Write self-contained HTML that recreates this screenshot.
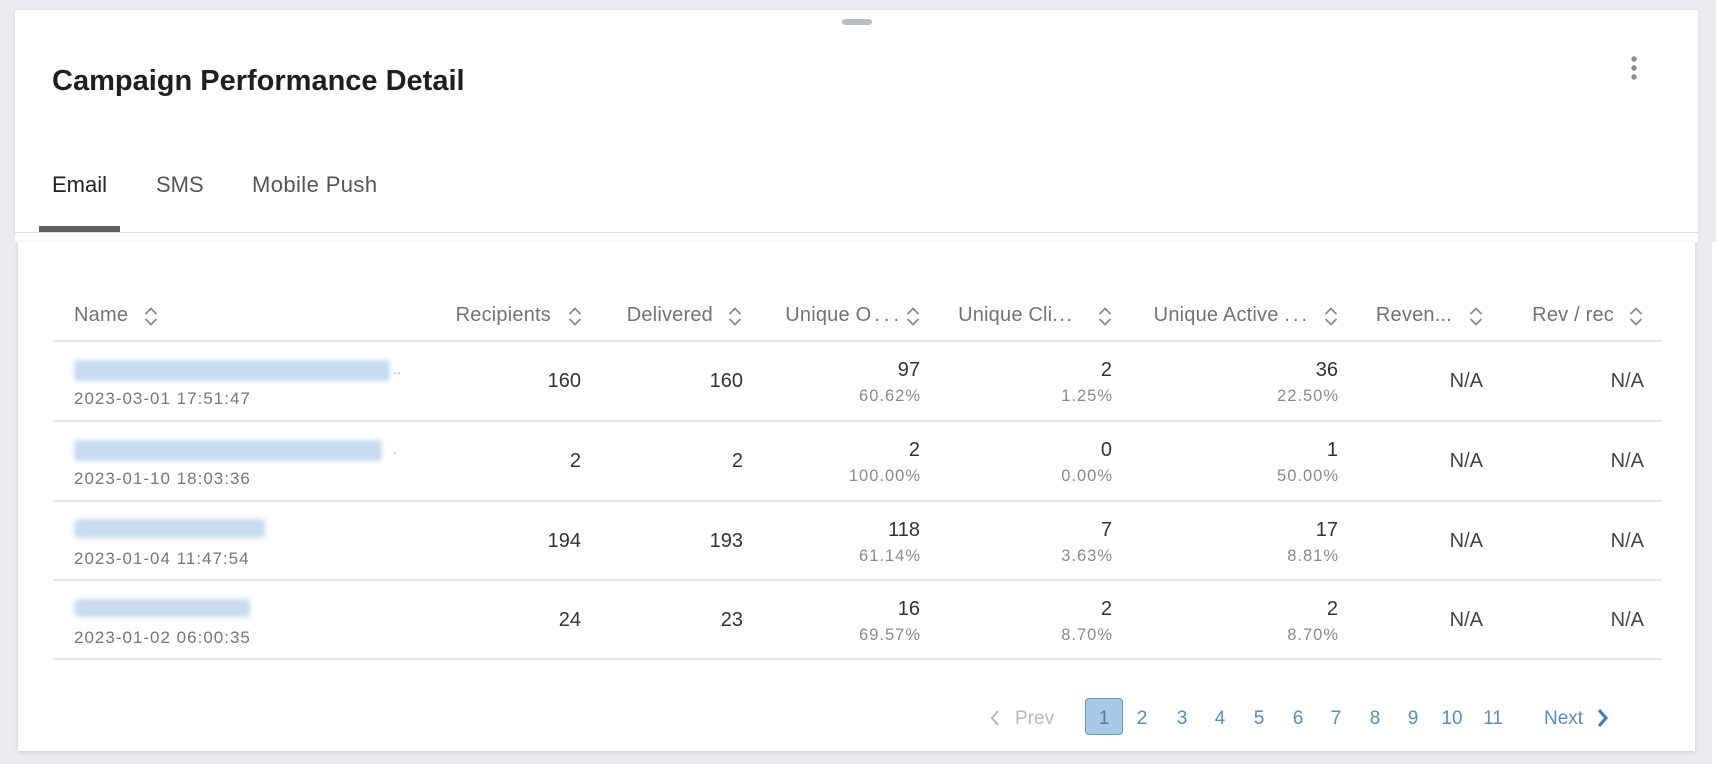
<!DOCTYPE html>
<html>
<head>
<meta charset="utf-8">
<style>
html,body{margin:0;padding:0;}
body{width:1716px;height:764px;background:#e9ebee;position:relative;overflow:hidden;font-family:"Liberation Sans",Arial,sans-serif;}
.a{position:absolute;line-height:1;white-space:nowrap;}
.card{position:absolute;left:15px;top:10px;width:1683px;height:232px;background:#fff;box-shadow:0 0 3px rgba(0,0,0,0.08);}
.low{position:absolute;left:18px;top:242px;width:1677px;height:509px;background:#fff;box-shadow:0 1px 4px rgba(0,0,0,0.14);}
.hl{position:absolute;left:53px;width:1609px;background:#e7e7e7;}
.th{font-size:20px;color:#737373;letter-spacing:0.2px;top:305px;}
.m{font-size:20px;color:#333;}
.p{font-size:16.5px;color:#8a8a8a;letter-spacing:1px;margin-right:-1px;}
.d{font-size:17px;color:#767676;letter-spacing:1px;left:74px;}
.blur{position:absolute;left:74px;height:21px;background:#c7dbf1;filter:blur(2.5px);border-radius:4px;}
.sort{position:absolute;top:307px;}
.pg{font-size:19px;color:#5b8db5;width:30px;text-align:center;top:709px;}
</style>
</head>
<body>
<div class="card"></div>
<div style="position:absolute;left:1712px;top:242px;width:4px;height:522px;background:#fff;"></div>
<div class="low"></div>

<!-- handle -->
<div style="position:absolute;left:842px;top:19px;width:30px;height:6px;border-radius:3px;background:#babdc2;"></div>
<!-- kebab -->
<svg style="position:absolute;left:1628px;top:53px" width="12" height="30">
<circle cx="6" cy="6" r="2.7" fill="#8c8c8c"/>
<circle cx="6" cy="15" r="2.7" fill="#8c8c8c"/>
<circle cx="6" cy="24" r="2.7" fill="#8c8c8c"/>
</svg>

<div class="a" style="left:52px;top:66.5px;font-size:29px;font-weight:bold;color:#1f1f1f;">Campaign Performance Detail</div>

<div class="a" style="left:52px;top:174.4px;font-size:22px;color:#222;">Email</div>
<div class="a" style="left:156px;top:174.4px;font-size:22px;color:#555;">SMS</div>
<div class="a" style="left:252px;top:174.4px;font-size:22px;color:#555;letter-spacing:0.4px;">Mobile Push</div>
<div style="position:absolute;left:39px;top:226px;width:81px;height:6px;background:#5f6062;"></div>
<div style="position:absolute;left:15px;top:232px;width:1683px;height:1px;background:#dcdcdc;"></div>

<!-- table header -->
<div class="a th" style="left:74px;">Name</div>
<div class="a th" style="right:1165px;">Recipients</div>
<div class="a th" style="right:1003px;">Delivered</div>
<div class="a th" style="right:817px;">Unique O<span style="margin-left:3px;letter-spacing:4px;margin-right:-4px;">...</span></div>
<div class="a th" style="right:644px;">Unique Cli<span style="letter-spacing:1.5px;margin-right:-1.5px;">...</span></div>
<div class="a th" style="right:409px;">Unique Active <span style="letter-spacing:3px;margin-right:-3px;">...</span></div>
<div class="a th" style="right:264px;">Reven...</div>
<div class="a th" style="right:102px;">Rev / rec</div>

<svg class="sort" style="left:144px" width="14" height="19"><polyline points="1.5,7 7,1.5 12.5,7" fill="none" stroke="#8a8a8a" stroke-width="1.8"/><polyline points="1.5,12 7,17.5 12.5,12" fill="none" stroke="#8a8a8a" stroke-width="1.8"/></svg>
<svg class="sort" style="left:568px" width="14" height="19"><polyline points="1.5,7 7,1.5 12.5,7" fill="none" stroke="#8a8a8a" stroke-width="1.8"/><polyline points="1.5,12 7,17.5 12.5,12" fill="none" stroke="#8a8a8a" stroke-width="1.8"/></svg>
<svg class="sort" style="left:728px" width="14" height="19"><polyline points="1.5,7 7,1.5 12.5,7" fill="none" stroke="#8a8a8a" stroke-width="1.8"/><polyline points="1.5,12 7,17.5 12.5,12" fill="none" stroke="#8a8a8a" stroke-width="1.8"/></svg>
<svg class="sort" style="left:906px" width="14" height="19"><polyline points="1.5,7 7,1.5 12.5,7" fill="none" stroke="#8a8a8a" stroke-width="1.8"/><polyline points="1.5,12 7,17.5 12.5,12" fill="none" stroke="#8a8a8a" stroke-width="1.8"/></svg>
<svg class="sort" style="left:1098px" width="14" height="19"><polyline points="1.5,7 7,1.5 12.5,7" fill="none" stroke="#8a8a8a" stroke-width="1.8"/><polyline points="1.5,12 7,17.5 12.5,12" fill="none" stroke="#8a8a8a" stroke-width="1.8"/></svg>
<svg class="sort" style="left:1324px" width="14" height="19"><polyline points="1.5,7 7,1.5 12.5,7" fill="none" stroke="#8a8a8a" stroke-width="1.8"/><polyline points="1.5,12 7,17.5 12.5,12" fill="none" stroke="#8a8a8a" stroke-width="1.8"/></svg>
<svg class="sort" style="left:1469px" width="14" height="19"><polyline points="1.5,7 7,1.5 12.5,7" fill="none" stroke="#8a8a8a" stroke-width="1.8"/><polyline points="1.5,12 7,17.5 12.5,12" fill="none" stroke="#8a8a8a" stroke-width="1.8"/></svg>
<svg class="sort" style="left:1629px" width="14" height="19"><polyline points="1.5,7 7,1.5 12.5,7" fill="none" stroke="#8a8a8a" stroke-width="1.8"/><polyline points="1.5,12 7,17.5 12.5,12" fill="none" stroke="#8a8a8a" stroke-width="1.8"/></svg>

<!-- lines -->
<div class="hl" style="top:340px;height:2px;"></div>
<div class="hl" style="top:420px;height:2px;"></div>
<div class="hl" style="top:500px;height:2px;"></div>
<div class="hl" style="top:579px;height:2px;"></div>
<div class="hl" style="top:658px;height:2px;"></div>

<!-- row 1 -->
<div class="blur" style="top:360px;width:316px;"></div>
<div class="a" style="left:393px;top:362px;font-size:14px;color:#aaa;">..</div>
<div class="a d" style="top:389.6px;">2023-03-01 17:51:47</div>
<div class="a m" style="right:1135px;top:371.1px;">160</div>
<div class="a m" style="right:973px;top:371.1px;">160</div>
<div class="a m" style="right:796px;top:360.1px;">97</div>
<div class="a p" style="right:796px;top:388px;">60.62%</div>
<div class="a m" style="right:604px;top:360.1px;">2</div>
<div class="a p" style="right:604px;top:388px;">1.25%</div>
<div class="a m" style="right:378px;top:360.1px;">36</div>
<div class="a p" style="right:378px;top:388px;">22.50%</div>
<div class="a m" style="right:233px;top:371.1px;color:#444;">N/A</div>
<div class="a m" style="right:72px;top:371.1px;color:#444;">N/A</div>

<!-- row 2 -->
<div class="blur" style="top:440px;width:308px;"></div>
<div class="a" style="left:393px;top:442px;font-size:14px;color:#aaa;">.</div>
<div class="a d" style="top:469.6px;">2023-01-10 18:03:36</div>
<div class="a m" style="right:1135px;top:451.1px;">2</div>
<div class="a m" style="right:973px;top:451.1px;">2</div>
<div class="a m" style="right:796px;top:440.1px;">2</div>
<div class="a p" style="right:796px;top:468px;">100.00%</div>
<div class="a m" style="right:604px;top:440.1px;">0</div>
<div class="a p" style="right:604px;top:468px;">0.00%</div>
<div class="a m" style="right:378px;top:440.1px;">1</div>
<div class="a p" style="right:378px;top:468px;">50.00%</div>
<div class="a m" style="right:233px;top:451.1px;color:#444;">N/A</div>
<div class="a m" style="right:72px;top:451.1px;color:#444;">N/A</div>

<!-- row 3 -->
<div class="blur" style="top:519px;width:191px;height:19px;"></div>
<div class="a d" style="top:549.6px;">2023-01-04 11:47:54</div>
<div class="a m" style="right:1135px;top:531.1px;">194</div>
<div class="a m" style="right:973px;top:531.1px;">193</div>
<div class="a m" style="right:796px;top:520.1px;">118</div>
<div class="a p" style="right:796px;top:548px;">61.14%</div>
<div class="a m" style="right:604px;top:520.1px;">7</div>
<div class="a p" style="right:604px;top:548px;">3.63%</div>
<div class="a m" style="right:378px;top:520.1px;">17</div>
<div class="a p" style="right:378px;top:548px;">8.81%</div>
<div class="a m" style="right:233px;top:531.1px;color:#444;">N/A</div>
<div class="a m" style="right:72px;top:531.1px;color:#444;">N/A</div>

<!-- row 4 -->
<div class="blur" style="top:599px;width:176px;height:18px;"></div>
<div class="a d" style="top:628.6px;">2023-01-02 06:00:35</div>
<div class="a m" style="right:1135px;top:610.1px;">24</div>
<div class="a m" style="right:973px;top:610.1px;">23</div>
<div class="a m" style="right:796px;top:599.1px;">16</div>
<div class="a p" style="right:796px;top:627px;">69.57%</div>
<div class="a m" style="right:604px;top:599.1px;">2</div>
<div class="a p" style="right:604px;top:627px;">8.70%</div>
<div class="a m" style="right:378px;top:599.1px;">2</div>
<div class="a p" style="right:378px;top:627px;">8.70%</div>
<div class="a m" style="right:233px;top:610.1px;color:#444;">N/A</div>
<div class="a m" style="right:72px;top:610.1px;color:#444;">N/A</div>

<!-- pagination -->
<svg style="position:absolute;left:989px;top:709px" width="12" height="18"><polyline points="9,2 3,9 9,16" fill="none" stroke="#b5b5b5" stroke-width="2"/></svg>
<div class="a" style="left:1015px;top:709px;font-size:19px;color:#b8b8b8;">Prev</div>
<div style="position:absolute;left:1085px;top:698px;width:38px;height:37px;box-sizing:border-box;background:#a8c9e6;border:1.5px solid #6b98bd;border-radius:4px;"></div>
<div class="a pg" style="left:1089px;color:#4a7aa5;">1</div>
<div class="a pg" style="left:1127px;">2</div>
<div class="a pg" style="left:1167px;">3</div>
<div class="a pg" style="left:1205px;">4</div>
<div class="a pg" style="left:1244px;">5</div>
<div class="a pg" style="left:1283px;">6</div>
<div class="a pg" style="left:1321px;">7</div>
<div class="a pg" style="left:1360px;">8</div>
<div class="a pg" style="left:1398px;">9</div>
<div class="a pg" style="left:1437px;">10</div>
<div class="a pg" style="left:1478px;">11</div>
<div class="a" style="left:1544px;top:709px;font-size:19px;color:#5b8db5;">Next</div>
<svg style="position:absolute;left:1595px;top:708px" width="14" height="20"><polyline points="4,2 11,10 4,18" fill="none" stroke="#3c7bb3" stroke-width="3"/></svg>
</body>
</html>
